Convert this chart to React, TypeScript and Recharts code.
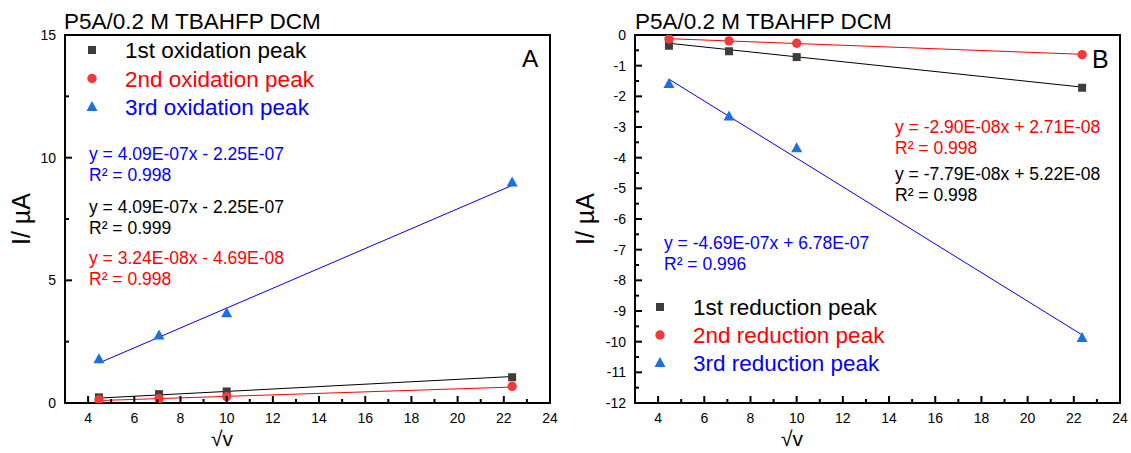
import React from 'react';
import { ScatterChart, Scatter, XAxis, YAxis, ReferenceArea } from 'recharts';

const FONT = '"Liberation Sans", Arial, Helvetica, sans-serif';

// √v for the four scan rates
const sqrtV = [4.47, 7.07, 10.0, 22.36];
const fitEnds = [4.47, 22.36];

// panel A: oxidation peak currents (µA)
const ox1 = [0.23, 0.36, 0.47, 1.05];
const ox2 = [0.13, 0.18, 0.26, 0.68];
const ox3 = [1.78, 2.75, 3.66, 8.99];
const oxFit1 = [0.2, 1.08];
const oxFit2 = [0.1, 0.65];
const oxFit3 = [1.63, 8.87];

// panel B: reduction peak currents (µA)
const red1 = [-0.35, -0.53, -0.72, -1.72];
const red2 = [-0.13, -0.19, -0.27, -0.64];
const red3 = [-1.6, -2.66, -3.69, -9.88];
const redFit1 = [-0.27, -1.7];
const redFit2 = [-0.12, -0.63];
const redFit3 = [-1.44, -9.78];

// ticks
const xMajor = [4, 6, 8, 10, 12, 14, 16, 18, 20, 22, 24];
const xMinor = [5, 7, 9, 11, 13, 15, 17, 19, 21, 23];
const yMajorA = [0, 5, 10, 15];
const yMinorA = [2.5, 7.5, 12.5];
const yMajorB = [-12, -11, -10, -9, -8, -7, -6, -5, -4, -3, -2, -1, 0];
const yMinorB = [-11.5, -10.5, -9.5, -8.5, -7.5, -6.5, -5.5, -4.5, -3.5, -2.5, -1.5, -0.5];

const SQ = '#3d3d3d';
const CI = '#f23a3a';
const TR = '#1c6fe0';

const pts = (xs: number[], ys: number[]) => xs.map((x, i) => ({ x, y: ys[i] }));

const Square = ({ cx, cy }: any) => <rect x={cx - 4} y={cy - 4} width={8} height={8} fill={SQ} />;
const Circle = ({ cx, cy }: any) => <circle cx={cx} cy={cy} r={4.7} fill={CI} />;
const Triangle = ({ cx, cy }: any) => (
  <polygon points={`${cx},${cy - 6} ${cx + 5.5},${cy + 4} ${cx - 5.5},${cy + 4}`} fill={TR} />
);
const Nothing = () => <g />;

const makeXTick = (major: number[]) => (props: any) => {
  const { x, y, payload } = props;
  const isMajor = major.includes(payload.value);
  return (
    <g>
      <line x1={x} x2={x} y1={y} y2={y - (isMajor ? 7 : 4)} stroke="#000" strokeWidth={2} />
      {isMajor && (
        <text x={x} y={y + 20} textAnchor="middle" fontSize={14} fontFamily={FONT} fill="#000">
          {payload.value}
        </text>
      )}
    </g>
  );
};

const makeYTick = (major: number[]) => (props: any) => {
  const { x, y, payload } = props;
  const isMajor = major.includes(payload.value);
  return (
    <g>
      <line x1={x} x2={x + (isMajor ? 7 : 4)} y1={y} y2={y} stroke="#000" strokeWidth={2} />
      {isMajor && (
        <text x={x - 9} y={y + 5} textAnchor="end" fontSize={14} fontFamily={FONT} fill="#000">
          {payload.value}
        </text>
      )}
    </g>
  );
};

function Panel(props: {
  width: number;
  marginLeft: number;
  marginRight: number;
  yAxisWidth: number;
  yDomain: [number, number];
  yMajor: number[];
  yMinor: number[];
  s1: number[];
  s2: number[];
  s3: number[];
  f1: number[];
  f2: number[];
  f3: number[];
}) {
  const { width, marginLeft, marginRight, yAxisWidth, yDomain, yMajor, yMinor } = props;
  const yTicks = [...yMajor, ...yMinor].sort((a, b) => a - b);
  const xTicks = [...xMajor, ...xMinor].sort((a, b) => a - b);
  return (
    <ScatterChart
      width={width}
      height={453}
      margin={{ top: 35, right: marginRight, bottom: 20, left: marginLeft }}
    >
      <XAxis
        type="number"
        dataKey="x"
        domain={[3, 24]}
        ticks={xTicks}
        interval={0}
        tickSize={0}
        tickMargin={0}
        height={30}
        axisLine={{ stroke: '#000', strokeWidth: 2 }}
        tickLine={false}
        tick={makeXTick(xMajor)}
        allowDataOverflow
      />
      <YAxis
        type="number"
        dataKey="y"
        domain={yDomain}
        ticks={yTicks}
        interval={0}
        tickSize={0}
        tickMargin={0}
        width={yAxisWidth}
        axisLine={{ stroke: '#000', strokeWidth: 2 }}
        tickLine={false}
        tick={makeYTick(yMajor)}
        allowDataOverflow
      />
      <ReferenceArea
        x1={3}
        x2={24}
        y1={yDomain[0]}
        y2={yDomain[1]}
        fill="none"
        fillOpacity={0}
        stroke="#000"
        strokeWidth={2}
      />
      <Scatter data={pts(fitEnds, props.f1)} line={{ stroke: '#000', strokeWidth: 1 }} shape={Nothing} isAnimationActive={false} />
      <Scatter data={pts(fitEnds, props.f2)} line={{ stroke: '#ff0000', strokeWidth: 1 }} shape={Nothing} isAnimationActive={false} />
      <Scatter data={pts(fitEnds, props.f3)} line={{ stroke: '#0000ff', strokeWidth: 1 }} shape={Nothing} isAnimationActive={false} />
      <Scatter data={pts(sqrtV, props.s1)} shape={Square} isAnimationActive={false} />
      <Scatter data={pts(sqrtV, props.s2)} shape={Circle} isAnimationActive={false} />
      <Scatter data={pts(sqrtV, props.s3)} shape={Triangle} isAnimationActive={false} />
    </ScatterChart>
  );
}

const LegendBlock = ({ mx, tx, ys, labels }: { mx: number; tx: number; ys: number[]; labels: string[] }) => (
  <g>
    <rect x={mx - 4} y={ys[0] - 4} width={8} height={8} fill={SQ} />
    <circle cx={mx} cy={ys[1]} r={4.7} fill={CI} />
    <polygon points={`${mx},${ys[2] - 6} ${mx + 5.5},${ys[2] + 4} ${mx - 5.5},${ys[2] + 4}`} fill={TR} />
    <text x={tx} y={ys[0] + 8} fontSize={22.5} fill="#000">{labels[0]}</text>
    <text x={tx} y={ys[1] + 8} fontSize={22.5} fill="#ff0000">{labels[1]}</text>
    <text x={tx} y={ys[2] + 8} fontSize={22.5} fill="#0000ff">{labels[2]}</text>
  </g>
);

const Eq = ({ x, y, color, eq, r2 }: { x: number; y: number; color: string; eq: string; r2: string }) => (
  <g fill={color} fontSize={17.5}>
    <text x={x} y={y}>{eq}</text>
    <text x={x} y={y + 21}>{r2}</text>
  </g>
);

export default function App() {
  return (
    <div style={{ position: 'absolute', left: 0, top: 0, width: 1131, height: 453, background: '#fff', fontFamily: FONT }}>
      <div style={{ position: 'absolute', left: 0, top: 0 }}>
        <Panel
          width={565}
          marginLeft={20}
          marginRight={15}
          yAxisWidth={45}
          yDomain={[0, 15]}
          yMajor={yMajorA}
          yMinor={yMinorA}
          s1={ox1}
          s2={ox2}
          s3={ox3}
          f1={oxFit1}
          f2={oxFit2}
          f3={oxFit3}
        />
      </div>
      <div style={{ position: 'absolute', left: 565, top: 0 }}>
        <Panel
          width={566}
          marginLeft={20}
          marginRight={11}
          yAxisWidth={50}
          yDomain={[-12, 0]}
          yMajor={yMajorB}
          yMinor={yMinorB}
          s1={red1}
          s2={red2}
          s3={red3}
          f1={redFit1}
          f2={redFit2}
          f3={redFit3}
        />
      </div>
      <svg
        width={1131}
        height={453}
        style={{ position: 'absolute', left: 0, top: 0, pointerEvents: 'none' }}
        fontFamily={FONT}
      >
        {/* panel A */}
        <text x={64} y={29} fontSize={22.5} fill="#000">P5A/0.2 M TBAHFP DCM</text>
        <text x={522} y={67} fontSize={24.5} fill="#000">A</text>
        <text x={30} y={219} fontSize={25} textAnchor="middle" transform="rotate(-90 30 219)" fill="#000">I/ µA</text>
        <text x={222} y={446} fontSize={21} textAnchor="middle" fill="#000">√v</text>
        <LegendBlock mx={92} tx={125} ys={[50, 78.5, 107]} labels={['1st oxidation peak', '2nd oxidation peak', '3rd oxidation peak']} />
        <Eq x={89} y={160} color="#0000ff" eq="y = 4.09E-07x - 2.25E-07" r2="R² = 0.998" />
        <Eq x={89} y={212.5} color="#000" eq="y = 4.09E-07x - 2.25E-07" r2="R² = 0.999" />
        <Eq x={89} y={263.5} color="#ff0000" eq="y = 3.24E-08x - 4.69E-08" r2="R² = 0.998" />

        {/* panel B */}
        <text x={635} y={29} fontSize={22.5} fill="#000">P5A/0.2 M TBAHFP DCM</text>
        <text x={1092} y={68} fontSize={25} fill="#000">B</text>
        <text x={594} y={219} fontSize={25} textAnchor="middle" transform="rotate(-90 594 219)" fill="#000">I/ µA</text>
        <text x={792} y={446} fontSize={21} textAnchor="middle" fill="#000">√v</text>
        <LegendBlock mx={660} tx={693} ys={[307, 335, 363]} labels={['1st reduction peak', '2nd reduction peak', '3rd reduction peak']} />
        <Eq x={895} y={133} color="#ff0000" eq="y = -2.90E-08x + 2.71E-08" r2="R² = 0.998" />
        <Eq x={895} y={180} color="#000" eq="y = -7.79E-08x + 5.22E-08" r2="R² = 0.998" />
        <Eq x={664} y={249} color="#0000ff" eq="y = -4.69E-07x + 6.78E-07" r2="R² = 0.996" />
      </svg>
    </div>
  );
}
